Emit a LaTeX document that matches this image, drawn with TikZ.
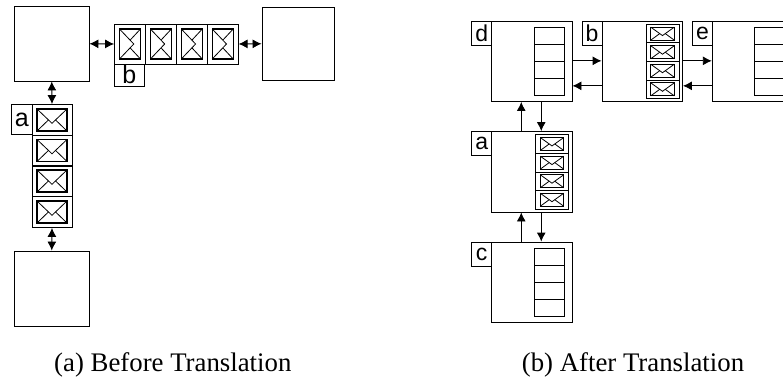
\documentclass[tikz,border=0pt]{standalone}
\usepackage{fontspec}
\setmainfont{Liberation Serif}
\setsansfont{Liberation Sans}
\usetikzlibrary{arrows.meta}
\tikzset{
  procbox/.style={draw,line width=0.9pt,inner sep=0pt},
  cellbox/.style={draw,line width=0.9pt,inner sep=0pt},
  tagbox/.style={draw,line width=0.9pt,inner sep=0pt,font=\sffamily\fontsize{#1}{#1}\selectfont},
  link/.style={line width=0.9pt,-{Latex[length=9pt,width=9pt]}},
  biglink/.style={line width=0.9pt,{Latex[length=9pt,width=9pt]}-{Latex[length=9pt,width=9pt]}},
  captiontext/.style={inner sep=0pt,font=\fontsize{26.8}{30}\selectfont},
  flatmail/.pic={
    \draw[line width=#1] (-.5,-.5) rectangle (.5,.5);
    \draw[line width=0.8pt] (-.5,-.5) -- (0,.15) -- (.5,-.5);
    \draw[line width=0.8pt] (-.5,.5) -- (-.12,0) (.5,.5) -- (.12,0);
  },
  tallmail/.pic={
    \draw[line width=1.2pt] (-.5,-.5) rectangle (.5,.5);
    \draw[line width=0.8pt] (-.5,-.5) -- (.18,0) -- (-.5,.5);
    \draw[line width=0.8pt] (.5,-.5) -- (.02,-.14) (.5,.5) -- (.02,.14);
  },
  bigsize/.style={xscale=30,yscale=22},
  smallsize/.style={xscale=23.5,yscale=13},
  tallsize/.style={xscale=21,yscale=30}
}
\begin{document}
\begin{tikzpicture}[x=1pt,y=-1pt]
\useasboundingbox (0,0) rectangle (783,385);
% before
\begin{scope}
\node[procbox,minimum width=74.5pt,minimum height=74.5pt] (boxtop) at (51.75,43.75) {};
\node[procbox,minimum width=72.5pt,minimum height=72.5pt] (boxright) at (298.25,43.75) {};
\node[procbox,minimum width=74.5pt,minimum height=75pt] (boxbottom) at (51.75,288.5) {};
\node[cellbox,minimum width=30.9pt,minimum height=40pt] (qb1) at (130,44) {};
\node[cellbox,minimum width=30.9pt,minimum height=40pt] (qb2) at (160.9,44) {};
\node[cellbox,minimum width=30.9pt,minimum height=40pt] (qb3) at (191.8,44) {};
\node[cellbox,minimum width=30.9pt,minimum height=40pt] (qb4) at (222.7,44) {};
\node[tagbox=25,minimum width=29.6pt,minimum height=22pt] (tagb) at (129.3,75) {b};
\node[cellbox,minimum width=40pt,minimum height=31pt] (qa1) at (52,120) {};
\node[cellbox,minimum width=40pt,minimum height=31pt] (qa2) at (52,150.5) {};
\node[cellbox,minimum width=40pt,minimum height=31pt] (qa3) at (52,181) {};
\node[cellbox,minimum width=40pt,minimum height=31pt] (qa4) at (52,212) {};
\node[tagbox=25,minimum width=20.5pt,minimum height=30pt] (taga) at (21.75,119.5) {a};
\pic[tallsize] at (qb1) {tallmail};
\pic[tallsize] at (qb2) {tallmail};
\pic[tallsize] at (qb3) {tallmail};
\pic[tallsize] at (qb4) {tallmail};
\pic[bigsize] at (qa1) {flatmail=1.2pt};
\pic[bigsize] at (qa2) {flatmail=1.2pt};
\pic[bigsize] at (qa3) {flatmail=1.2pt};
\pic[bigsize] at (qa4) {flatmail=1.2pt};
\draw[biglink] (boxtop.east) -- (qb1.west);
\draw[biglink] (qb4.east) -- (boxright.west);
\draw[biglink] (boxtop.south) -- (qa1.north);
\draw[biglink] (qa4.south) -- (boxbottom.north);
\node[captiontext] (captionbefore) at (172.8,365) {(a) Before Translation};
\end{scope}
% after
\begin{scope}
\node[procbox,minimum width=80.3pt,minimum height=80pt] (procd) at (531.85,61.5) {};
\node[procbox,minimum width=80.5pt,minimum height=80pt] (procb) at (642.25,61.5) {};
\node[procbox,minimum width=80.5pt,minimum height=80pt] (proce) at (752.5,61.5) {};
\node[procbox,minimum width=80.3pt,minimum height=80.5pt] (proca) at (531.85,171.75) {};
\node[procbox,minimum width=80.3pt,minimum height=80.3pt] (procc) at (531.85,282.15) {};
\node[tagbox=23,minimum width=20pt,minimum height=24pt] (tagd) at (481.7,33.5) {d};
\node[tagbox=23,minimum width=20pt,minimum height=24pt] (tagpb) at (592,33.5) {b};
\node[tagbox=23,minimum width=20pt,minimum height=24pt] (tage) at (702.5,33.5) {e};
\node[tagbox=23,minimum width=20pt,minimum height=24pt] (tagpa) at (481.7,143.75) {a};
\node[tagbox=23,minimum width=20pt,minimum height=24pt] (tagc) at (481.7,254) {c};
\node[cellbox,minimum width=30.5pt,minimum height=17pt] (qd1) at (549.25,35.75) {};
\node[cellbox,minimum width=30.5pt,minimum height=17pt] (qd2) at (549.25,52.5) {};
\node[cellbox,minimum width=30.5pt,minimum height=17pt] (qd3) at (549.25,69.5) {};
\node[cellbox,minimum width=30.5pt,minimum height=17pt] (qd4) at (549.25,86.5) {};
\node[cellbox,minimum width=30.5pt,minimum height=17pt] (qe1) at (770,35.75) {};
\node[cellbox,minimum width=30.5pt,minimum height=17pt] (qe2) at (770,52.5) {};
\node[cellbox,minimum width=30.5pt,minimum height=17pt] (qe3) at (770,69.5) {};
\node[cellbox,minimum width=30.5pt,minimum height=17pt] (qe4) at (770,86.5) {};
\node[cellbox,minimum width=30.5pt,minimum height=17pt] (qc1) at (549.25,257.1) {};
\node[cellbox,minimum width=30.5pt,minimum height=17pt] (qc2) at (549.25,273.75) {};
\node[cellbox,minimum width=30.5pt,minimum height=17pt] (qc3) at (549.25,290.5) {};
\node[cellbox,minimum width=30.5pt,minimum height=17pt] (qc4) at (549.25,307.5) {};
\node[cellbox,minimum width=32.6pt,minimum height=18.6pt] (qpa1) at (552,144) {};
\node[cellbox,minimum width=32.6pt,minimum height=18.6pt] (qpa2) at (552,162.65) {};
\node[cellbox,minimum width=32.6pt,minimum height=18.6pt] (qpa3) at (552,181.25) {};
\node[cellbox,minimum width=32.6pt,minimum height=18.6pt] (qpa4) at (552,199.75) {};
\node[cellbox,minimum width=33pt,minimum height=18.6pt] (qpb1) at (662.5,33.65) {};
\node[cellbox,minimum width=33pt,minimum height=18.6pt] (qpb2) at (662.5,52.25) {};
\node[cellbox,minimum width=33pt,minimum height=18.6pt] (qpb3) at (662.5,70.75) {};
\node[cellbox,minimum width=33pt,minimum height=18.6pt] (qpb4) at (662.5,89.35) {};
\pic[smallsize] at (qpa1) {flatmail=1pt};
\pic[smallsize] at (qpa2) {flatmail=1pt};
\pic[smallsize] at (qpa3) {flatmail=1pt};
\pic[smallsize] at (qpa4) {flatmail=1pt};
\pic[smallsize] at (qpb1) {flatmail=1pt};
\pic[smallsize] at (qpb2) {flatmail=1pt};
\pic[smallsize] at (qpb3) {flatmail=1pt};
\pic[smallsize] at (qpb4) {flatmail=1pt};
\draw[link] ([yshift=-39.8pt]procd.north east) -- ([yshift=-39.8pt]procb.north west);
\draw[link] ([yshift=-64.8pt]procb.north west) -- ([yshift=-64.8pt]procd.north east);
\draw[link] ([yshift=-39.8pt]procb.north east) -- ([yshift=-39.8pt]proce.north west);
\draw[link] ([yshift=-64.8pt]proce.north west) -- ([yshift=-64.8pt]procb.north east);
\draw[link] ([xshift=30pt]proca.north west) -- ([xshift=30pt]procd.south west);
\draw[link] ([xshift=50pt]procd.south west) -- ([xshift=50pt]proca.north west);
\draw[link] ([xshift=30pt]procc.north west) -- ([xshift=30pt]proca.south west);
\draw[link] ([xshift=50pt]proca.south west) -- ([xshift=50pt]procc.north west);
\node[captiontext] (captionafter) at (633,365) {(b) After Translation};
\end{scope}
\end{tikzpicture}
\end{document}
